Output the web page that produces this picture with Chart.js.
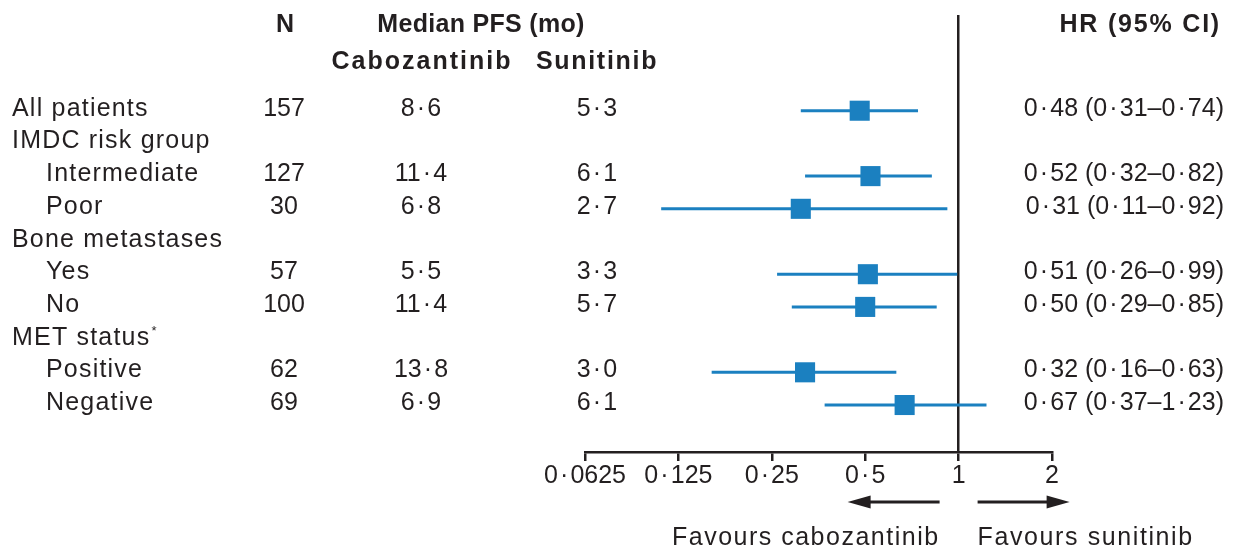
<!DOCTYPE html>
<html>
<head>
<meta charset="utf-8">
<title>PFS forest plot</title>
<script src="https://cdn.jsdelivr.net/npm/chart.js@4.4.1/dist/chart.umd.min.js"></script>
<style>
  html, body { margin: 0; padding: 0; background: #fff; }
  #wrap { width: 1244px; height: 548px; position: relative; }
</style>
</head>
<body>
<div id="wrap"><canvas id="forest"></canvas></div>
<script>
// ── Data ─────────────────────────────────────────────────
const rowLabels = ['All patients', 'IMDC risk group', 'Intermediate', 'Poor', 'Bone metastases',
  'Yes', 'No', 'MET status', 'Positive', 'Negative'];
const rowIndent = [0, 0, 1, 1, 0, 1, 1, 0, 1, 1];
const nPatients = [157, null, 127, 30, null, 57, 100, null, 62, 69];
const pfsCabo = [8.6, null, 11.4, 6.8, null, 5.5, 11.4, null, 13.8, 6.9];
const pfsSuni = [5.3, null, 6.1, 2.7, null, 3.3, 5.7, null, 3.0, 6.1];
const hazard = [0.48, null, 0.52, 0.31, null, 0.51, 0.50, null, 0.32, 0.67];
const ciLow = [0.31, null, 0.32, 0.11, null, 0.26, 0.29, null, 0.16, 0.37];
const ciHigh = [0.74, null, 0.82, 0.92, null, 0.99, 0.85, null, 0.63, 1.23];
const tickValues = [0.0625, 0.125, 0.25, 0.5, 1, 2];
const tickLabels = ['0·0625', '0·125', '0·25', '0·5', '1', '2'];

// ── Style ────────────────────────────────────────────────
const INK = '#231f20';
const BLUE = '#1b80c0';
const FONT = '"Liberation Sans", Arial, Helvetica, sans-serif';
const DOT = '\u200a·\u200a';

const dotted = s => String(s).replace('·', DOT);
const fmt = (v, d) => v.toFixed(d).replace('.', DOT);

function txt(ctx, s, x, y, opts = {}) {
  ctx.save();
  ctx.font = `${opts.bold ? 'bold ' : ''}${opts.size || 25}px ${FONT}`;
  ctx.fillStyle = INK;
  ctx.textAlign = opts.align || 'left';
  ctx.textBaseline = 'alphabetic';
  ctx.letterSpacing = (opts.spacing != null ? opts.spacing : 0) + 'px';
  ctx.fillText(s, x, y);
  ctx.restore();
}

function arrow(ctx, x0, x1, y) {
  const dir = Math.sign(x1 - x0);
  ctx.save();
  ctx.strokeStyle = INK;
  ctx.fillStyle = INK;
  ctx.lineWidth = 3;
  ctx.beginPath();
  ctx.moveTo(x0, y);
  ctx.lineTo(x1 - dir * 20, y);
  ctx.stroke();
  ctx.beginPath();
  ctx.moveTo(x1, y);
  ctx.lineTo(x1 - dir * 23, y - 6.5);
  ctx.lineTo(x1 - dir * 23, y + 6.5);
  ctx.closePath();
  ctx.fill();
  ctx.restore();
}

// ── Table text + arrows ──────────────────────────────────
const tablePlugin = {
  id: 'forestTable',
  afterDraw(chart) {
    const ctx = chart.ctx;
    const xs = chart.scales.x;
    const ys = chart.scales.y;

    // headers
    txt(ctx, 'N', 285, 32, { bold: true, align: 'center' });
    txt(ctx, 'Median PFS (mo)', 481, 32, { bold: true, align: 'center', spacing: 0.3 });
    txt(ctx, 'Cabozantinib', 422, 68.5, { bold: true, align: 'center', spacing: 2 });
    txt(ctx, 'Sunitinib', 597, 68.5, { bold: true, align: 'center', spacing: 1.7 });
    txt(ctx, 'HR (95% CI)', 1221, 32, { bold: true, align: 'right', spacing: 1.8 });

    rowLabels.forEach((label, i) => {
      const y = ys.getPixelForValue(i) + 5;
      const lx = rowIndent[i] ? 46 : 12;
      txt(ctx, label, lx, y, { spacing: 1.2 });
      if (label === 'MET status') {
        ctx.save();
        ctx.font = `25px ${FONT}`;
        ctx.letterSpacing = '1.2px';
        const w = ctx.measureText(label).width;
        ctx.restore();
        txt(ctx, '*', lx + w + 1, y - 10, { size: 13 });
      }
      if (nPatients[i] == null) return;
      txt(ctx, String(nPatients[i]), 284, y, { align: 'center' });
      txt(ctx, fmt(pfsCabo[i], 1), 421, y, { align: 'center' });
      txt(ctx, fmt(pfsSuni[i], 1), 597, y, { align: 'center' });
      const hrText = `${fmt(hazard[i], 2)} (${fmt(ciLow[i], 2)}–${fmt(ciHigh[i], 2)})`;
      txt(ctx, hrText, 1224, y, { align: 'right' });
    });

    // direction arrows under the axis
    const x1 = xs.getPixelForValue(1);
    arrow(ctx, x1 - 19, x1 - 111, 502);
    arrow(ctx, x1 + 19, x1 + 111, 502);
    txt(ctx, 'Favours cabozantinib', x1 - 19, 545, { align: 'right', spacing: 1.5 });
    txt(ctx, 'Favours sunitinib', x1 + 19, 545, { spacing: 1.6 });
  },
};

// ── Datasets ─────────────────────────────────────────────
const datasets = [];
hazard.forEach((h, i) => {
  if (h == null) return;
  datasets.push({
    type: 'scatter',
    data: [{ x: ciLow[i], y: i }, { x: ciHigh[i], y: i }],
    showLine: true,
    borderColor: BLUE,
    borderWidth: 3,
    pointRadius: 0,
    order: 2,
  });
});
datasets.push({
  type: 'scatter',
  data: hazard.map((h, i) => (h == null ? null : { x: h, y: i })).filter(Boolean),
  pointStyle: 'rect',
  pointRadius: 14.2,
  backgroundColor: BLUE,
  borderWidth: 0,
  order: 1,
});

new Chart(document.getElementById('forest'), {
  type: 'scatter',
  data: { datasets },
  options: {
    responsive: true,
    maintainAspectRatio: false,
    devicePixelRatio: 1,
    animation: false,
    layout: { padding: { left: 585, right: 192, top: 15, bottom: 0 } },
    plugins: { legend: { display: false }, tooltip: { enabled: false } },
    scales: {
      x: {
        type: 'logarithmic',
        min: 0.0625,
        max: 2,
        afterBuildTicks: scale => { scale.ticks = tickValues.map(v => ({ value: v })); },
        afterFit: scale => { scale.height = 96; },
        border: { display: true, color: INK, width: 2.5 },
        grid: {
          drawOnChartArea: true,
          drawTicks: true,
          tickLength: 9,
          tickWidth: 2.5,
          tickColor: INK,
          lineWidth: 2.5,
          color: c => (c.tick && c.tick.value === 1 ? INK : 'rgba(0,0,0,0)'),
        },
        ticks: {
          autoSkip: false,
          maxRotation: 0,
          padding: 0,
          color: INK,
          font: { family: FONT, size: 25 },
          callback: v => {
            const k = tickValues.indexOf(v);
            return k < 0 ? '' : dotted(tickLabels[k]);
          },
        },
      },
      y: {
        type: 'linear',
        display: false,
        reverse: true,
        min: -2.927,
        max: 10.437,
      },
    },
  },
  plugins: [tablePlugin],
});
</script>
</body>
</html>
